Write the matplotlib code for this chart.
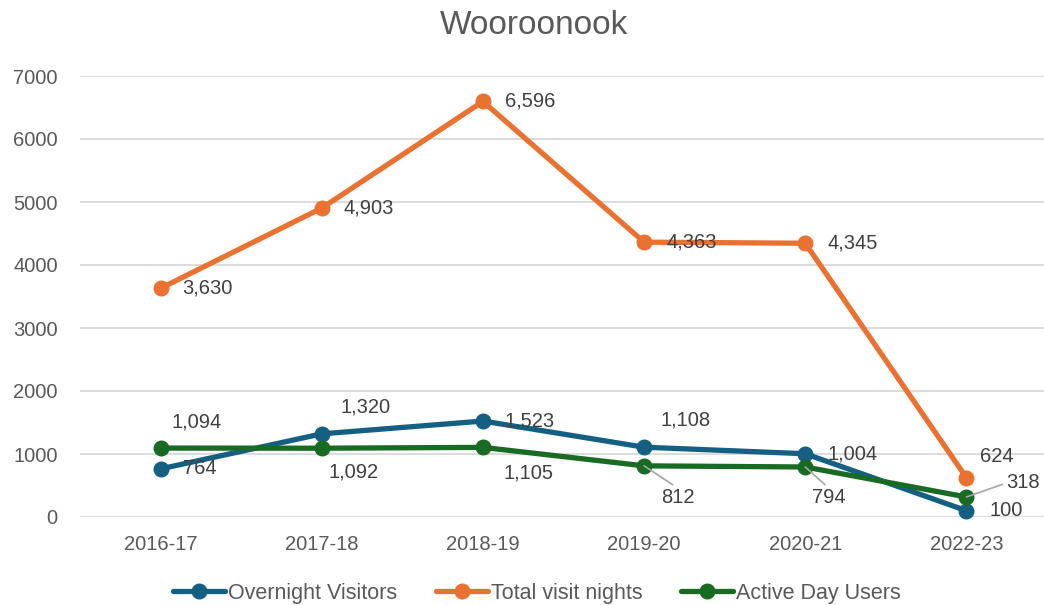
import matplotlib.pyplot as plt

plt.rcParams['font.family'] = ['Liberation Sans', 'DejaVu Sans']

years = ["2016-17", "2017-18", "2018-19", "2019-20", "2020-21", "2022-23"]
overnight = [764, 1320, 1523, 1108, 1004, 100]
total_nights = [3630, 4903, 6596, 4363, 4345, 624]
active_day = [1094, 1092, 1105, 812, 794, 318]

names = ["Overnight Visitors", "Total visit nights", "Active Day Users"]
colors = ["#156082", "#E97132", "#196B24"]

# label placement per point: (ha, dx, dy) in pixels, dy up
R = ('left', 22, 0)
place = [
    [R, ('center', 44, 27), R, ('center', 41, 27), R, ('left', 23, 0)],
    [R, R, R, R, R, ('center', 30, 21)],
    [('center', 36, 26), ('center', 32, -24), ('center', 46, -26),
     ('center', 34, -32), ('center', 24, -31), ('left', 40, 14)],
]
# points that get a leader line (series index, point index)
leaders = {(2, 3): (0.5, 1), (2, 4): (0.5, 1), (2, 5): (0, 0.5)}

fig = plt.figure(figsize=(10.44, 6.05), dpi=100)
ax = fig.add_axes([80 / 1044, 1 - 517 / 605, 967 / 1044, 441 / 605])

x = list(range(len(years)))
for s, vals in enumerate([overnight, total_nights, active_day]):
    ax.plot(x, vals, color=colors[s], lw=3.8, marker='o', markersize=10.5,
            label=names[s], zorder=3 + s, clip_on=False, solid_capstyle='round')
    for i, v in enumerate(vals):
        ha, dx, dy = place[s][i]
        kw = {}
        if (s, i) in leaders:
            kw['arrowprops'] = dict(arrowstyle='-', color='#A6A6A6', lw=1.2,
                                    shrinkA=1, shrinkB=0,
                                    relpos=leaders[(s, i)])
        ax.annotate(f"{v:,}", (i, v), xytext=(dx, dy), textcoords='offset pixels',
                    ha=ha, va='center', fontsize=14.5, color='#404040',
                    zorder=10, **kw)

ax.set_xlim(-0.5, 5.5)
ax.set_ylim(0, 7000)
ax.set_yticks(range(0, 7001, 1000))
ax.set_xticks(x)
ax.set_xticklabels(years)
ax.grid(axis='y', color='#D9D9D9', lw=1.3)
ax.set_axisbelow(True)
for sp in ax.spines.values():
    sp.set_visible(False)
ax.tick_params(length=0, labelsize=14.5, colors='#595959')
ax.tick_params(axis='y', pad=16)
ax.tick_params(axis='x', pad=13)

fig.text(534 / 1044, 1 - 25 / 605, "Wooroonook", ha='center', va='center',
         fontsize=24, color='#595959')

fig.legend(loc='center', bbox_to_anchor=(537 / 1044, 1 - 593 / 605), ncol=3,
           frameon=False, handlelength=2.4, handletextpad=0.15, columnspacing=1.8,
           prop={'size': 15.5}, labelcolor='#595959', borderpad=0)

fig.savefig("out.png", dpi=100)
